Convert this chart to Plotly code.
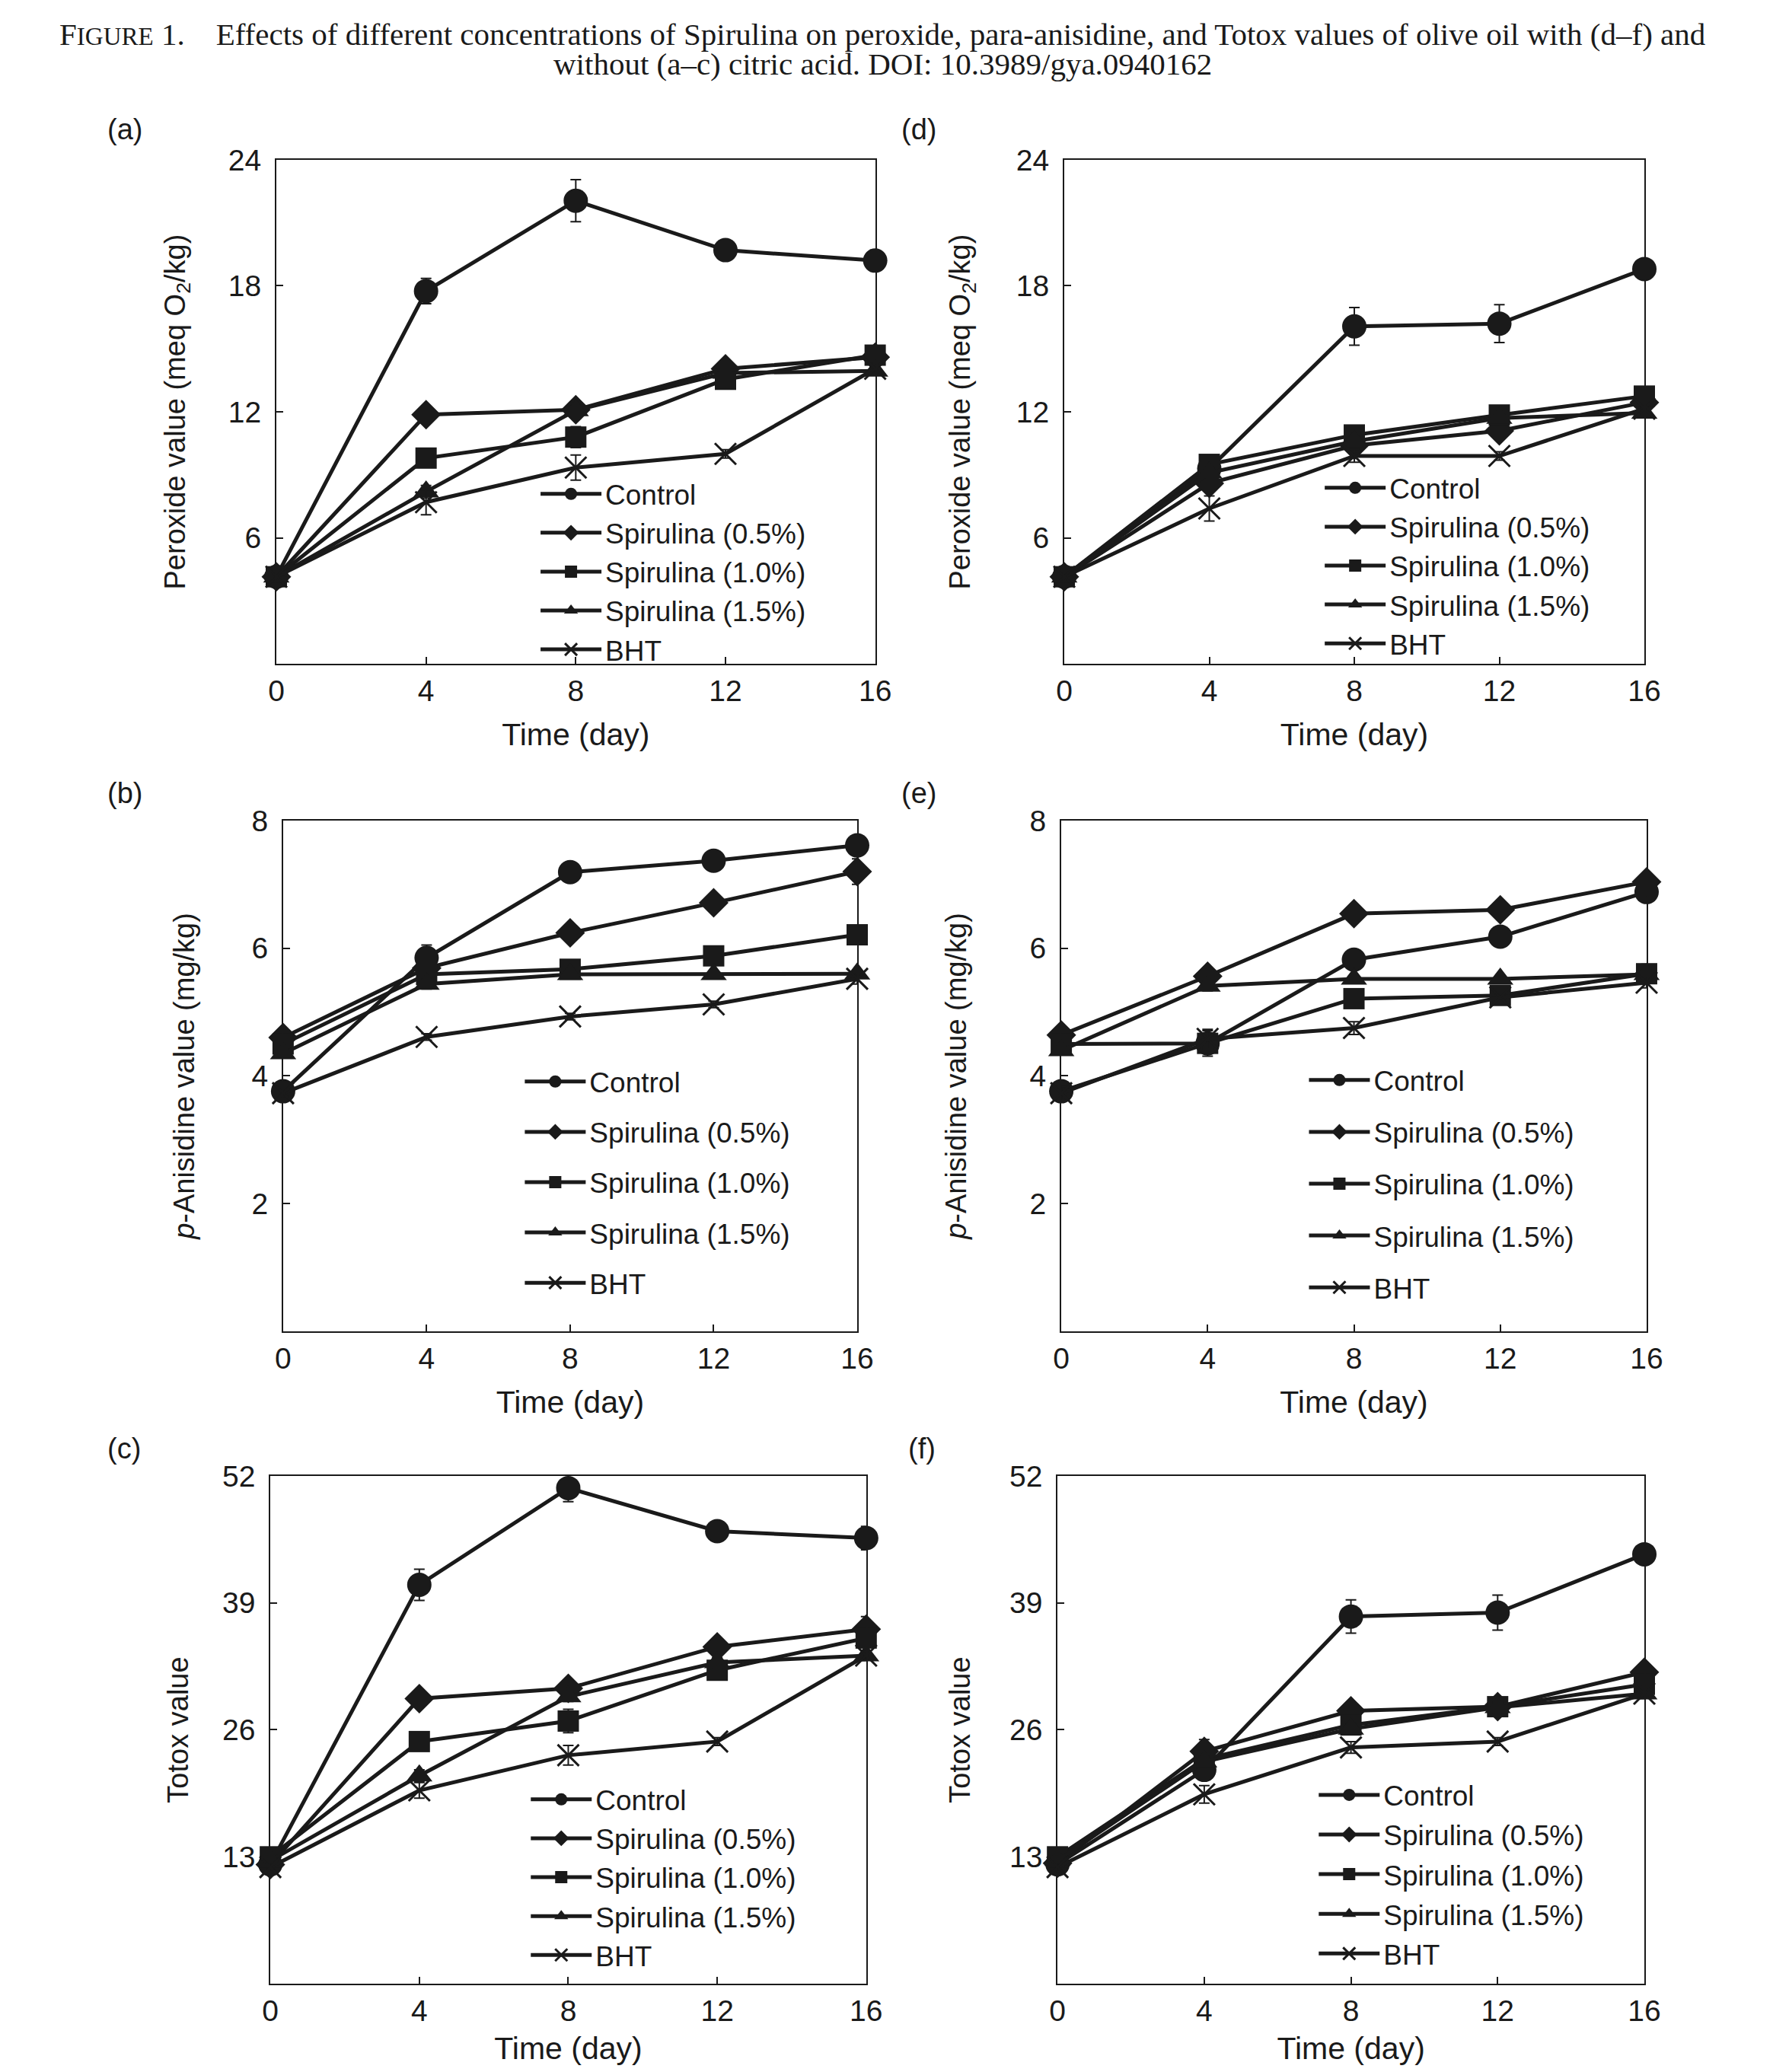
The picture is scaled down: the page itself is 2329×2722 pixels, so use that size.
import plotly.graph_objects as go

days = [0, 4, 8, 12, 16]
series_names = ["Control", "Spirulina (0.5%)", "Spirulina (1.0%)", "Spirulina (1.5%)", "BHT"]

# (a) peroxide, without citric acid  -- rows follow series_names
peroxide_plain = [
    [4.15, 17.75, 22.05, 19.7, 19.2],
    [4.15, 11.87, 12.1, 14.05, 14.6],
    [4.15, 9.8, 10.8, 13.55, 14.7],
    [4.15, 8.2, 12.07, 13.85, 13.95],
    [4.15, 7.7, 9.35, 10.0, 14.05],
]
peroxide_plain_err = [
    [0.2, 0.6, 1.0, 0.4, 0.5],
    [0.1, 0.2, 0.2, 0.3, 0.4],
    [0.1, 0.3, 0.5, 0.3, 0.3],
    [0.1, 0.3, 0.2, 0.2, 0.2],
    [0.1, 0.6, 0.6, 0.2, 0.2],
]
# (d) peroxide, with citric acid
peroxide_ca = [
    [4.15, 9.3, 16.07, 16.2, 18.8],
    [4.15, 8.6, 10.4, 11.1, 12.45],
    [4.15, 9.5, 10.9, 11.85, 12.75],
    [4.15, 9.1, 10.6, 11.7, 11.95],
    [4.15, 7.4, 9.9, 9.9, 12.15],
]
peroxide_ca_err = [
    [0.2, 0.3, 0.9, 0.9, 0.4],
    [0.1, 0.3, 0.3, 0.3, 0.2],
    [0.1, 0.3, 0.3, 0.3, 0.3],
    [0.1, 0.2, 0.2, 0.2, 0.2],
    [0.1, 0.6, 0.3, 0.2, 0.2],
]
# (b) p-anisidine, without citric acid
anisidine_plain = [
    [3.76, 5.85, 7.19, 7.37, 7.61],
    [4.6, 5.69, 6.24, 6.71, 7.2],
    [4.5, 5.59, 5.67, 5.88, 6.21],
    [4.35, 5.44, 5.59, 5.59, 5.6],
    [3.73, 4.61, 4.93, 5.12, 5.52],
]
anisidine_plain_err = [
    [0.05, 0.2, 0.12, 0.08, 0.08],
    [0.05, 0.1, 0.12, 0.1, 0.2],
    [0.05, 0.08, 0.08, 0.08, 0.08],
    [0.05, 0.08, 0.05, 0.05, 0.05],
    [0.05, 0.05, 0.05, 0.05, 0.08],
]
# (e) p-anisidine, with citric acid
anisidine_ca = [
    [3.76, 4.51, 5.82, 6.18, 6.88],
    [4.64, 5.56, 6.54, 6.6, 7.04],
    [4.5, 4.51, 5.21, 5.26, 5.6],
    [4.4, 5.41, 5.52, 5.52, 5.59],
    [3.73, 4.58, 4.75, 5.23, 5.46],
]
anisidine_ca_err = [
    [0.05, 0.1, 0.1, 0.1, 0.15],
    [0.05, 0.08, 0.05, 0.05, 0.08],
    [0.05, 0.2, 0.08, 0.08, 0.15],
    [0.05, 0.08, 0.05, 0.05, 0.05],
    [0.1, 0.15, 0.1, 0.05, 0.08],
]
# (c) totox, without citric acid
totox_plain = [
    [12.23, 40.85, 50.75, 46.34, 45.63],
    [12.2, 29.2, 30.24, 34.5, 36.3],
    [13.0, 24.8, 26.9, 32.1, 35.4],
    [12.6, 21.3, 29.4, 32.9, 33.6],
    [11.94, 19.8, 23.4, 24.8, 33.6],
]
totox_plain_err = [
    [0.4, 1.6, 1.4, 0.8, 1.2],
    [0.3, 0.5, 0.5, 0.6, 1.3],
    [0.3, 0.6, 1.2, 0.6, 0.6],
    [0.3, 0.6, 0.5, 0.5, 0.5],
    [0.3, 0.8, 1.0, 0.4, 0.4],
]
# (f) totox, with citric acid
totox_ca = [
    [12.23, 21.9, 37.6, 38.0, 43.97],
    [12.35, 23.8, 27.95, 28.37, 31.9],
    [13.0, 23.0, 26.5, 28.37, 30.66],
    [12.65, 22.75, 26.1, 28.3, 29.7],
    [11.94, 19.4, 24.2, 24.8, 29.7],
]
totox_ca_err = [
    [0.4, 0.8, 1.7, 1.8, 0.8],
    [0.3, 1.2, 0.8, 0.6, 0.6],
    [0.3, 0.8, 0.8, 0.9, 0.6],
    [0.3, 0.5, 0.5, 0.5, 0.5],
    [0.3, 0.9, 0.6, 0.4, 0.4],
]

# page body keeps an 8 px margin, so the figure is that much smaller
PAD = 8
W, H = 2329 - 2 * PAD, 2722 - 2 * PAD
FONT = "Liberation Sans, Arial, sans-serif"
SERIF = "Liberation Serif, Times New Roman, serif"
INK = "#1a1a1a"

symbols = ["circle", "diamond", "square", "triangle-up", "x-thin"]
sizes = [32, 30, 28, 30, 28]


def px(x, y):
    # page pixels -> paper coordinates
    return (x - PAD) / W, 1 - (y - PAD) / H


# label, data, errors, y max, y ticks, y title, title standoff,
# plot box in page px (x0, x1, top, bottom), label pos, legend pos (left, top), legend group gap
panels = [
    ("(a)", peroxide_plain, peroxide_plain_err, 24, [6, 12, 18, 24],
     "Peroxide value (meq O<sub>2</sub>/kg)", 45,
     (357, 1155, 191, 861), (155, 151), (704, 604), 0),
    ("(d)", peroxide_ca, peroxide_ca_err, 24, [6, 12, 18, 24],
     "Peroxide value (meq O<sub>2</sub>/kg)", 49,
     (1407, 2180, 191, 861), (1213, 151), (1749, 596), 0),
    ("(b)", anisidine_plain, anisidine_plain_err, 8, [2, 4, 6, 8],
     "<i>p</i>-Anisidine value (mg/kg)", 63,
     (366, 1131, 1069, 1748), (155, 1033), (683, 1385), 15),
    ("(e)", anisidine_ca, anisidine_ca_err, 8, [2, 4, 6, 8],
     "<i>p</i>-Anisidine value (mg/kg)", 71,
     (1403, 2183, 1069, 1748), (1213, 1033), (1728, 1383), 17),
    ("(c)", totox_plain, totox_plain_err, 52, [13, 26, 39, 52],
     "Totox value", 33,
     (349, 1143, 1940, 2615), (154, 1904), (691, 2339), 0),
    ("(f)", totox_ca, totox_ca_err, 52, [13, 26, 39, 52],
     "Totox value", 40,
     (1398, 2180, 1940, 2615), (1217, 1904), (1741, 2333), 1),
]

fig = go.Figure()
layout = {}
annotations = []

for k, (label, data, errs, ymax, yticks, ytitle, ystand, box, labpos, legpos, gap) in enumerate(panels):
    n = "" if k == 0 else str(k + 1)
    x0, x1, top, bottom = box
    xa, yb = px(x0, bottom)
    xb, ya = px(x1, top)
    leg = "legend" + n

    for i, name in enumerate(series_names):
        fig.add_trace(go.Scatter(
            x=days, y=data[i], name=name, mode="lines+markers",
            xaxis="x" + n, yaxis="y" + n, legend=leg,
            legendgroup=f"{label}{i}",
            line=dict(color=INK, width=5),
            marker=dict(symbol=symbols[i], size=sizes[i], color=INK,
                        line=dict(color=INK, width=3 if symbols[i] == "x-thin" else 0)),
            error_y=dict(type="data", array=errs[i], color=INK, thickness=2, width=7),
            cliponaxis=False,
        ))

    axis_common = dict(showline=True, mirror=True, linecolor=INK, linewidth=2,
                       ticks="inside", ticklen=9, tickwidth=2, tickcolor=INK,
                       showgrid=False, zeroline=False,
                       tickfont=dict(family=FONT, size=39, color=INK))
    layout["xaxis" + n] = dict(domain=[xa, xb], anchor="y" + n, range=[0, 16],
                               tickvals=days, ticklabelstandoff=0,
                               title=dict(text="Time (day)", standoff=22,
                                          font=dict(family=FONT, size=41, color=INK)),
                               **axis_common)
    layout["yaxis" + n] = dict(domain=[yb, ya], anchor="x" + n, range=[0, ymax],
                               tickvals=yticks, ticklabelstandoff=10,
                               title=dict(text=ytitle, standoff=ystand,
                                          font=dict(family=FONT, size=38, color=INK)),
                               **axis_common)
    lx, ly = px(*legpos)
    layout[leg] = dict(x=lx, y=ly, xanchor="left", yanchor="top",
                       bgcolor="rgba(0,0,0,0)",
                       font=dict(family=FONT, size=37, color=INK),
                       itemwidth=80, tracegroupgap=gap)

    tx, ty = px(*labpos)
    annotations.append(dict(text=label, xref="paper", yref="paper", x=tx, y=ty,
                            xanchor="center", yanchor="middle", showarrow=False,
                            font=dict(family=FONT, size=38, color=INK)))

title_lines = [
    "F<span style='font-size:33px'>IGURE</span> 1.&nbsp;&nbsp;&nbsp;&nbsp;Effects of different concentrations of "
    "Spirulina on peroxide, para-anisidine, and Totox values of olive oil with (d–f) and",
    "without (a–c) citric acid. DOI: 10.3989/gya.0940162",
]
for j, line in enumerate(title_lines):
    tx, ty = px(1164, 24 + 40 * j)
    annotations.append(dict(text=line, xref="paper", yref="paper", x=0.5, y=ty,
                            xanchor="center", yanchor="middle", showarrow=False,
                            font=dict(family=SERIF, size=41, color=INK)))

fig.update_layout(width=W, height=H, margin=dict(l=0, r=0, t=0, b=0),
                  plot_bgcolor="white", paper_bgcolor="white",
                  annotations=annotations, **layout)

fig.write_html("out.html")
